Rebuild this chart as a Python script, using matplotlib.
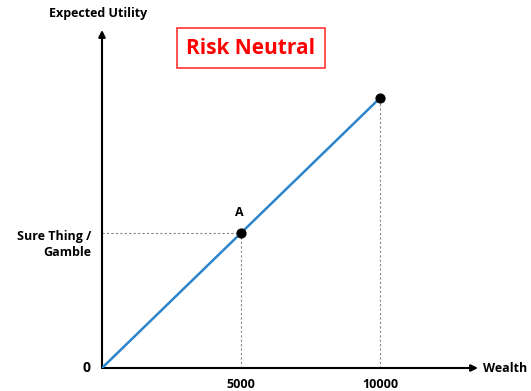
import matplotlib
matplotlib.use("Agg")
import matplotlib.pyplot as plt

# Risk-neutral utility: U(W) = W
wealth = [0, 5000, 10000]
utility = [0, 5000, 10000]
tick_positions = [5000, 10000]
tick_labels = ["5000", "10000"]
point_a = (5000, 5000)
point_b = (10000, 10000)

W, H = 531, 391
fig = plt.figure(figsize=(W / 100, H / 100), dpi=100)
ox, oy = 102, 368
right, top = 478, 30
ax = fig.add_axes([ox / W, (H - oy) / H, (right - ox) / W, (oy - top) / H])
xmax, ymax = 13525, 12519
ax.set_xlim(0, xmax)
ax.set_ylim(0, ymax)
ax.axis("off")

font = ["Open Sans", "DejaVu Sans"]

# Axes with arrows
ax.annotate("", xy=(1.0, 0), xytext=(0, 0), xycoords="axes fraction",
            arrowprops=dict(arrowstyle="-|>", color="black", lw=1.5,
                            mutation_scale=10, shrinkA=0, shrinkB=0))
ax.annotate("", xy=(0, 1.0), xytext=(0, 0), xycoords="axes fraction",
            arrowprops=dict(arrowstyle="-|>", color="black", lw=1.5,
                            mutation_scale=10, shrinkA=0, shrinkB=0))

# Utility line
ax.plot(wealth, utility, color="#2B84CC", lw=1.8, solid_capstyle="butt", zorder=3)

# Guide lines
ax.plot([0, point_a[0]], [point_a[1], point_a[1]], color="#888888", lw=0.8,
        ls=(0, (2, 2)), zorder=2)
ax.plot([point_a[0], point_a[0]], [0, point_a[1]], color="#888888", lw=0.8,
        ls=(0, (2, 2)), zorder=2)
ax.plot([point_b[0], point_b[0]], [0, point_b[1]], color="#888888", lw=0.8,
        ls=(0, (2, 2)), zorder=2)

# Points
ax.scatter([point_a[0], point_b[0]], [point_a[1], point_b[1]], s=40,
           color="black", zorder=4)
ax.annotate("A", xy=point_a, xytext=(-1, 10), textcoords="offset points",
            ha="center", va="bottom", fontsize=9, fontweight="bold",
            family=font)

# Tick labels
for p, lab in zip(tick_positions, tick_labels):
    ax.annotate(lab, xy=(p, 0), xytext=(0, -7), textcoords="offset points",
                ha="center", va="top", fontsize=9, fontweight="bold",
                family=font)
ax.annotate("0", xy=(0, 0), xytext=(-11, 0), textcoords="offset points",
            ha="center", va="center", fontsize=10, fontweight="bold",
            family=font)
ax.annotate("Sure Thing /\nGamble", xy=(0, point_a[1]), xytext=(-8, -8),
            textcoords="offset points", ha="right", va="center", fontsize=9,
            fontweight="bold", family=font, linespacing=1.3)

# Axis titles
fig.text(483 / W, (H - 368) / H, "Wealth", ha="left", va="center",
         fontsize=9, fontweight="bold", family=font)
fig.text(98 / W, (H - 14) / H, "Expected Utility", ha="center", va="center",
         fontsize=9, fontweight="bold", family=font)

# Title box
fig.text(251 / W, (H - 48) / H, "Risk Neutral", ha="center", va="center",
         fontsize=15, fontweight="bold", color="#FF0000", family=font,
         bbox=dict(boxstyle="square,pad=0.45", fc="white", ec="#FF3333", lw=1.2))

fig.savefig("out.png", dpi=100)
